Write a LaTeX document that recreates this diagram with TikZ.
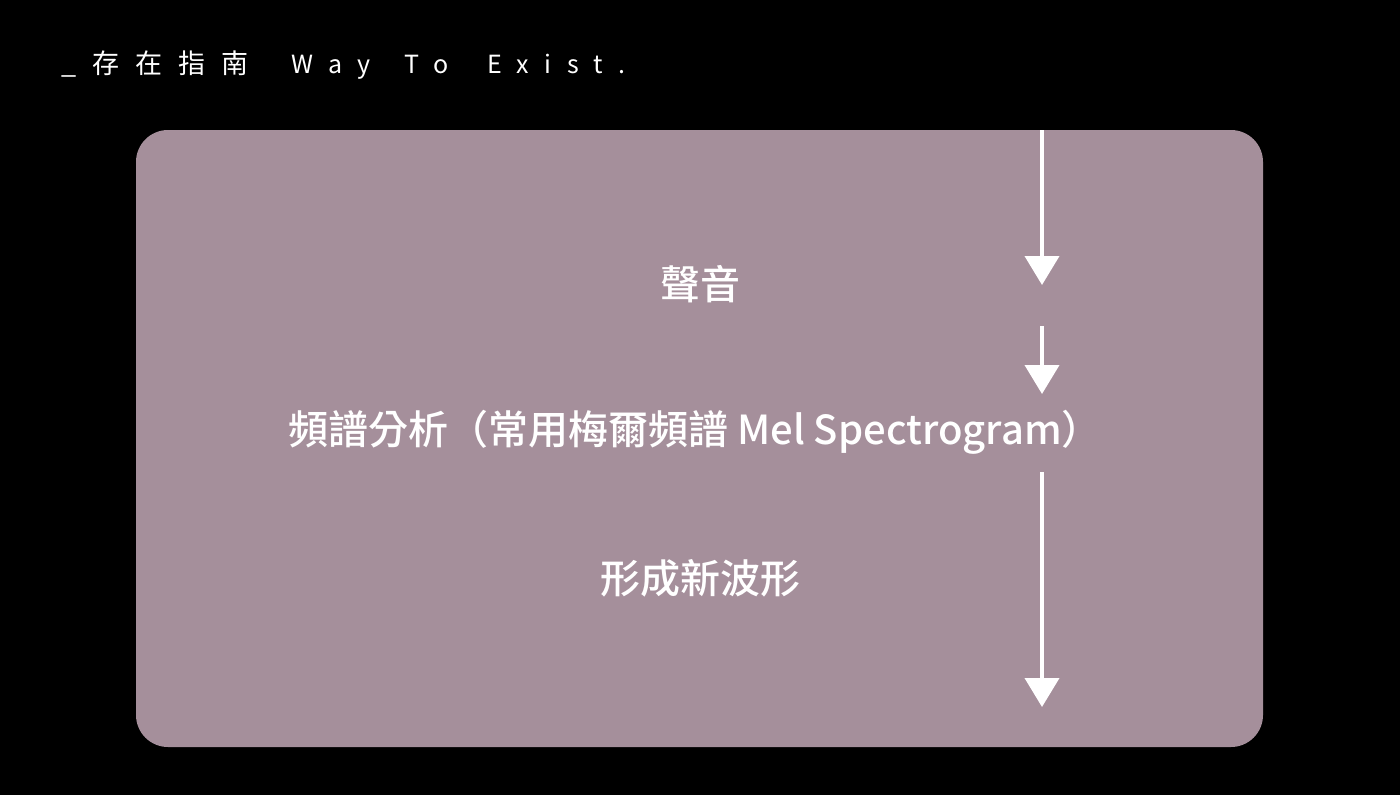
\documentclass[tikz,border=0pt]{standalone}
\usepackage{fontspec}
\setmainfont{Noto Sans CJK TC}[UprightFont=* Medium]
\newfontfamily\titlefont[LetterSpace=59]{Noto Sans CJK TC}
\newfontfamily\titlelatin[LetterSpace=62]{Noto Sans CJK TC}
\usepackage{tikz}
\usetikzlibrary{arrows.meta, positioning}
\definecolor{panelMauve}{HTML}{A58F9B}
\tikzset{%
  >={Triangle[width=34pt,length=29pt]},
  % Specifications for style of nodes:
     base/.style = {inner sep=0pt, text=white},
    stepLabel/.style = {base, font=\fontsize{40}{48}\selectfont},
    headerLabel/.style = {base, anchor=west, font=\titlefont\fontsize{27}{30}\selectfont},
    flowArrow/.style = {->, draw=white, line width=4pt},
}

\begin{document}
\begin{tikzpicture}[x=1pt, y=-1pt]
  % background and panel
  \fill[black] (0,0) rectangle (1400,795);
  \useasboundingbox (0,0) rectangle (1400,795);
  \fill[panelMauve, rounded corners=32pt] (136,130) rectangle (1263,747);

  % Specification of nodes (position, etc.)
  \node (header)   [headerLabel] at (61,65)
     {\_存在指南\hspace{43pt}{\titlelatin\fontsize{25}{30}\selectfont Way\hspace{34pt}To\hspace{39pt}Exist.}};

  \node (sound)    [stepLabel] at (700,284) {聲音};
  \node (spectrum) [stepLabel] at (695,432) {頻譜分析（常用梅爾頻譜 Mel Spectrogram）};
  \node (waveform) [stepLabel] at (700,578) {形成新波形};

  % arrow end points on the right side
  \coordinate (arrowOneStart) at (1042,130);
  \coordinate (arrowOneEnd)   at (1042,285);
  \coordinate (arrowTwoStart) at (1042,326);
  \coordinate (arrowTwoEnd)   at (1042,394);
  \coordinate (arrowThreeStart) at (1042,472);
  \coordinate (arrowThreeEnd)   at (1042,707);

  % Specification of lines
  \draw[flowArrow] (arrowOneStart) to (arrowOneEnd);
  \draw[flowArrow] (arrowTwoStart) to (arrowTwoEnd);
  \draw[flowArrow] (arrowThreeStart) to (arrowThreeEnd);
\end{tikzpicture}
\end{document}
